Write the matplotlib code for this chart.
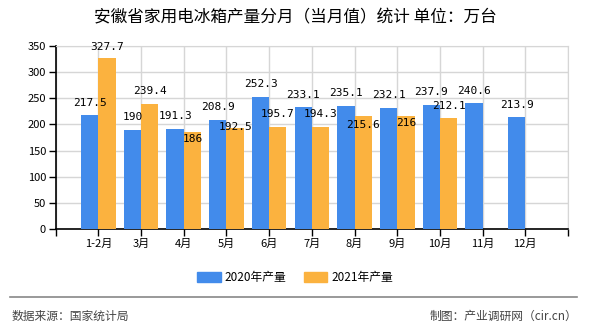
import numpy as np
import matplotlib
matplotlib.use("Agg")
import matplotlib.pyplot as plt
from matplotlib.patches import Patch
from matplotlib.lines import Line2D

plt.rcParams['font.family'] = ['Noto Sans CJK SC', 'DejaVu Sans']

# Données
mois = ['1-2月', '3月', '4月', '5月', '6月', '7月', '8月', '9月', '10月', '11月', '12月']
prod_2020 = [217.5, 190, 191.3, 208.9, 252.3, 233.1, 235.1, 232.1, 237.9, 240.6, 213.9]
prod_2021 = [327.7, 239.4, 186, 192.5, 195.7, 194.3, 215.6, 216, 212.1]
labels_serie = ['2020年产量', '2021年产量']

bleu = '#428BEB'
orange = '#FBB23F'

# décalage vertical des étiquettes (pixels), comme sur l'original
decal_2021 = [10.7, 13, -7, 1, 13, 13, -9, -7, 12]

fig = plt.figure(figsize=(5.9, 3.3), dpi=100)
ax = fig.add_axes([0.0944, 0.306, 0.8683, 0.555])

w = 0.405
x20 = np.arange(len(prod_2020))
x21 = np.arange(len(prod_2021))
ax.bar(x20 - w / 2, prod_2020, width=w, color=bleu, zorder=3)
ax.bar(x21 + w / 2, prod_2021, width=w, color=orange, zorder=3)

for x, v in zip(x20, prod_2020):
    ax.annotate(f'{v:g}', (x - w / 2, v), xytext=(0, 12.5), textcoords='offset pixels',
                ha='center', va='center', fontsize=8, family='DejaVu Sans Mono', zorder=5)
for x, v, d in zip(x21, prod_2021, decal_2021):
    ax.annotate(f'{v:g}', (x + w / 2, v), xytext=(0, d), textcoords='offset pixels',
                ha='center', va='center', fontsize=8, family='DejaVu Sans Mono', zorder=5)

ax.set_xlim(-1, 11)
ax.set_ylim(0, 350)
ax.set_yticks(range(0, 351, 50))
ax.set_xticks(np.arange(-1, 12))
ax.set_xticklabels([''] + mois + [''])
ax.grid(True, color='#d6d6d6', linewidth=1, zorder=0)
ax.tick_params(axis='both', direction='out', length=5, width=1, labelsize=8, pad=2, color='black')
for s in ['top', 'right']:
    ax.spines[s].set_color('#d6d6d6')
for s in ['left', 'bottom']:
    ax.spines[s].set_color('black')
    ax.spines[s].set_linewidth(1.2)

fig.text(0.5, 0.945, '安徽省家用电冰箱产量分月（当月值）统计 单位：万台', ha='center', va='center', fontsize=12)

handles = [Patch(color=bleu), Patch(color=orange)]
fig.legend(handles, labels_serie, loc='center', bbox_to_anchor=(0.5, 0.16), ncol=2, frameon=False,
           fontsize=8.5, handlelength=2.0, handleheight=0.9, handletextpad=0.3, columnspacing=1.5)

fig.add_artist(Line2D([0.017, 0.978], [0.1, 0.1], color='#888888', linewidth=1.2))
fig.text(0.02, 0.042, '数据来源：国家统计局', ha='left', va='center', fontsize=8.5, color='#444444')
fig.text(0.978, 0.042, '制图：产业调研网（cir.cn）', ha='right', va='center', fontsize=8.5, color='#444444')

fig.savefig('out.png', dpi=100)
